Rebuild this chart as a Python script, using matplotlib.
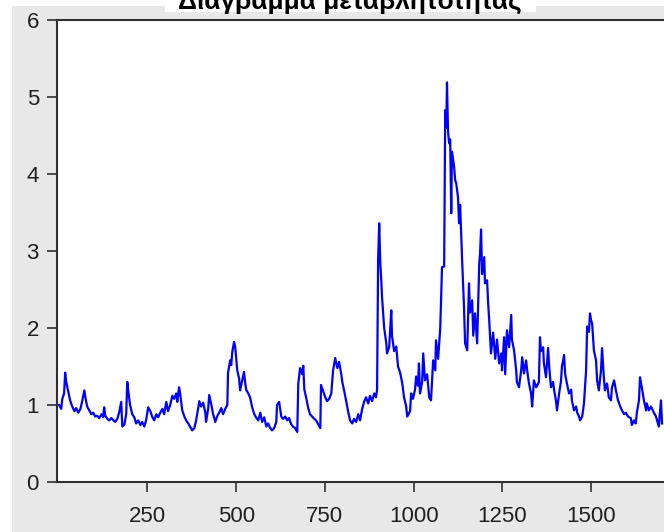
import matplotlib
matplotlib.use("Agg")
import matplotlib.pyplot as plt
from matplotlib.patches import Rectangle

# observation number and volatility value
obs = [1, 7, 10, 15, 18, 21, 27, 32, 38, 44, 49, 55, 61, 66, 72, 75, 80, 86, 92, 97,
       103, 108, 114, 120, 125, 128, 131, 137, 142, 148, 154, 159, 165, 170, 176, 179,
       185, 190, 193, 196, 201, 207, 213, 218, 224, 230, 235, 241, 246, 252, 258, 263,
       269, 275, 280, 286, 292, 297, 303, 308, 314, 320, 325, 331, 334, 339, 342, 348,
       354, 359, 365, 370, 376, 382, 387, 393, 396, 401, 407, 413, 415, 421, 424, 430,
       435, 441, 446, 452, 458, 463, 469, 475, 477, 483, 486, 489, 494, 497, 500, 503,
       508, 511, 517, 522, 525, 528, 534, 539, 545, 551, 556, 562, 568, 573, 579, 585,
       590, 596, 601, 607, 613, 615, 621, 627, 632, 638, 644, 649, 655, 660, 666, 672,
       675, 677, 680, 686, 689, 692, 697, 703, 708, 714, 720, 725, 731, 737, 739, 745,
       751, 756, 762, 768, 773, 779, 785, 790, 796, 799, 804, 810, 816, 821, 827, 832,
       838, 844, 849, 855, 861, 866, 872, 877, 883, 889, 894, 897, 900, 903, 906, 909,
       911, 917, 923, 925, 931, 937, 939, 945, 951, 956, 962, 968, 973, 979, 982, 990,
       993, 998, 1004, 1007, 1012, 1015, 1018, 1024, 1027, 1032, 1038, 1044, 1049, 1055,
       1061, 1063, 1069, 1075, 1080, 1086, 1089, 1092, 1094, 1097, 1100, 1103, 1106, 1108,
       1114, 1117, 1120, 1125, 1128, 1131, 1137, 1142, 1145, 1151, 1156, 1159, 1165, 1168,
       1173, 1179, 1185, 1187, 1190, 1193, 1199, 1201, 1207, 1210, 1213, 1218, 1224, 1230,
       1235, 1241, 1247, 1249, 1255, 1258, 1263, 1269, 1275, 1277, 1283, 1289, 1291, 1297,
       1303, 1306, 1311, 1317, 1320, 1325, 1331, 1334, 1339, 1345, 1348, 1353, 1356, 1359,
       1365, 1367, 1373, 1379, 1382, 1387, 1393, 1396, 1401, 1404, 1410, 1415, 1418, 1424,
       1427, 1432, 1438, 1444, 1446, 1452, 1458, 1461, 1466, 1469, 1475, 1480, 1486, 1489,
       1494, 1497, 1500, 1503, 1508, 1514, 1517, 1522, 1528, 1531, 1536, 1539, 1545, 1550,
       1556, 1559, 1565, 1570, 1576, 1584, 1587, 1593, 1598, 1604, 1612, 1615, 1621, 1626,
       1629, 1635, 1638, 1643, 1649, 1655, 1657, 1663, 1669, 1677, 1683, 1691, 1697, 1700]

vol = [1.00, 0.95, 1.08, 1.15, 1.42, 1.30, 1.17, 1.06, 0.98, 0.92, 0.96, 0.90, 0.95, 1.05,
       1.19, 1.10, 0.98, 0.93, 0.88, 0.90, 0.85, 0.86, 0.83, 0.88, 0.84, 0.97, 0.86, 0.82,
       0.80, 0.83, 0.80, 0.78, 0.82, 0.90, 1.04, 0.72, 0.75, 0.88, 1.30, 1.18, 1.00, 0.88,
       0.84, 0.76, 0.80, 0.74, 0.78, 0.72, 0.80, 0.97, 0.92, 0.85, 0.80, 0.88, 0.84, 0.90,
       0.95, 0.88, 1.04, 0.92, 1.00, 1.12, 1.08, 1.15, 1.04, 1.23, 1.15, 0.93, 0.85, 0.80,
       0.76, 0.72, 0.67, 0.70, 0.80, 0.96, 1.05, 0.98, 1.03, 0.90, 0.78, 0.95, 1.13, 1.00,
       0.88, 0.78, 0.85, 0.90, 0.96, 0.88, 0.95, 1.00, 1.42, 1.58, 1.52, 1.69, 1.82, 1.76,
       1.60, 1.45, 1.35, 1.19, 1.32, 1.43, 1.30, 1.20, 1.15, 1.10, 0.97, 0.88, 0.84, 0.80,
       0.90, 0.78, 0.84, 0.72, 0.76, 0.70, 0.67, 0.70, 0.78, 1.00, 1.04, 0.85, 0.82, 0.85,
       0.80, 0.83, 0.75, 0.72, 0.70, 0.65, 1.28, 1.36, 1.48, 1.40, 1.51, 1.20, 1.10, 0.96,
       0.88, 0.85, 0.82, 0.80, 0.75, 0.70, 1.26, 1.18, 1.10, 1.05, 1.08, 1.15, 1.45, 1.61,
       1.48, 1.56, 1.40, 1.30, 1.19, 1.05, 0.90, 0.80, 0.76, 0.82, 0.78, 0.88, 0.80, 0.95,
       1.05, 1.10, 1.02, 1.12, 1.05, 1.15, 1.10, 1.20, 2.90, 3.36, 2.85, 2.60, 2.40, 2.00,
       1.80, 1.67, 1.75, 2.23, 1.90, 1.70, 1.76, 1.50, 1.42, 1.28, 1.10, 0.98, 0.85, 0.92,
       1.15, 1.08, 1.20, 1.37, 1.25, 1.54, 1.15, 1.30, 1.67, 1.32, 1.40, 1.10, 1.06, 1.58,
       1.45, 1.84, 1.60, 2.00, 2.79, 2.80, 4.83, 4.60, 5.19, 4.55, 4.40, 4.45, 3.49, 4.29,
       4.10, 3.92, 3.88, 3.70, 3.36, 3.60, 2.84, 2.27, 1.80, 1.71, 2.58, 2.20, 2.36, 1.90,
       2.19, 1.80, 2.85, 2.95, 3.28, 2.70, 2.92, 2.58, 2.62, 2.32, 2.10, 1.67, 1.94, 1.60,
       1.85, 1.54, 1.67, 1.45, 1.88, 1.40, 1.97, 1.75, 2.17, 1.85, 1.71, 1.45, 1.30, 1.23,
       1.45, 1.62, 1.41, 1.58, 1.45, 1.28, 1.15, 0.98, 1.32, 1.23, 1.25, 1.30, 1.88, 1.70,
       1.75, 1.55, 1.36, 1.74, 1.50, 1.23, 1.30, 1.19, 1.06, 0.93, 1.15, 1.30, 1.50, 1.65,
       1.40, 1.28, 1.15, 1.20, 1.06, 0.93, 0.98, 0.90, 0.85, 0.80, 0.85, 1.02, 1.45, 2.02,
       1.95, 2.19, 2.10, 2.06, 1.71, 1.58, 1.32, 1.19, 1.45, 1.74, 1.36, 1.19, 1.28, 1.10,
       1.06, 1.23, 1.32, 1.19, 1.06, 0.96, 0.93, 0.88, 0.90, 0.85, 0.83, 0.74, 0.80, 0.76,
       0.90, 1.06, 1.36, 1.23, 1.06, 0.93, 1.02, 0.93, 0.98, 0.90, 0.85, 0.72, 1.06, 0.76]

x_ticks = [250, 500, 750, 1000, 1250, 1500]
y_ticks = [0, 1, 2, 3, 4, 5, 6]
title = "Διάγραμμα μεταβλητότητας"

plt.rcParams["font.family"] = ["Liberation Sans", "DejaVu Sans"]

W, H = 664, 532
fig = plt.figure(figsize=(W / 100, H / 100), dpi=100, facecolor="white")

# grey panel behind the chart, with a white strip for the title
fig.patches.append(Rectangle((12 / W, 0), 1, 1 - 6 / H, transform=fig.transFigure,
                             facecolor="#e8e8e8", edgecolor="none", zorder=0))
fig.patches.append(Rectangle((165 / W, 1 - 12 / H), 371 / W, 12 / H, transform=fig.transFigure,
                             facecolor="white", edgecolor="none", zorder=0))
fig.text(350 / W, 1 - 9 / H, title, ha="center", va="baseline",
         fontsize=19, fontweight="bold", color="black")

ax = fig.add_axes([57 / W, 50 / H, 621 / W, 462 / H])
ax.set_zorder(2)
ax.set_facecolor("white")
ax.plot(obs, vol, color="#0000ff", lw=1.6)

ax.set_xlim(-5, 1745)
ax.set_ylim(0, 6)
ax.set_xticks(x_ticks)
ax.set_yticks(y_ticks)

for side in ("left", "bottom", "top", "right"):
    ax.spines[side].set_color("#303030")
    ax.spines[side].set_linewidth(1.5)
ax.tick_params(direction="out", length=7, width=1.2, color="#303030",
               labelsize=16, labelcolor="#202020")
ax.tick_params(axis="x", pad=10)
ax.tick_params(axis="y", pad=6)

fig.savefig("out.png", dpi=100, facecolor="white")
